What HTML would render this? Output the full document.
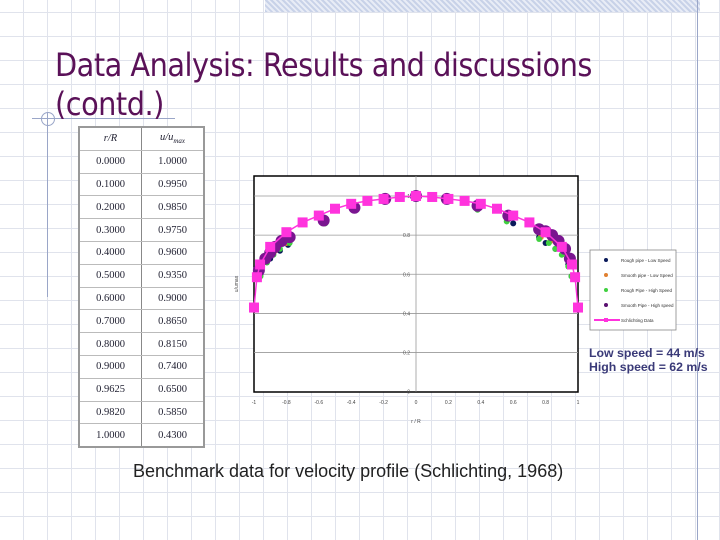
<!DOCTYPE html>
<html><head><meta charset="utf-8">
<style>
body{margin:0;}
#slide{position:relative;width:720px;height:540px;overflow:hidden;background:#fff;font-family:"Liberation Sans",sans-serif;
background-image:repeating-linear-gradient(90deg,transparent 0 23px,#e0e3ec 23px 24px),repeating-linear-gradient(0deg,transparent 0 23px,#e0e3ec 23px 24px);}
#band{position:absolute;left:265px;top:0;width:435px;height:12px;background:repeating-linear-gradient(45deg,#c8d2e8 0 2px,#e8ecf6 2px 4px);}
.title{position:absolute;left:55px;color:#5a1158;font-size:32px;font-family:"DejaVu Sans Condensed","DejaVu Sans",sans-serif;letter-spacing:-0.5px;}
table{position:absolute;left:78px;top:126px;width:127px;border-collapse:collapse;background:#fff;border:2px solid #999;font-family:"Liberation Serif",serif;font-size:10.5px;color:#223;}
td{border:1px solid #bbb;height:21.8px;padding:0;text-align:center;}
td:first-child{border-right:1px solid #888;}
.speed{position:absolute;left:589px;font-size:12.3px;font-weight:bold;color:#3a3a78;}
</style></head><body>
<div id="slide">
<div id="band"></div>
<div style="position:absolute;left:697px;top:0;width:1px;height:540px;background:#9aa6c8"></div>
<div style="position:absolute;left:47px;top:112px;width:1px;height:185px;background:#9aa6c8"></div>
<div style="position:absolute;left:32px;top:118px;width:143px;height:1px;background:#9aa6c8"></div>
<div style="position:absolute;left:41px;top:112px;width:12px;height:12px;border:1px solid #9aa6c8;border-radius:50%"></div>
<div class="title" style="top:46px">Data Analysis: Results and discussions</div>
<div class="title" style="top:85px">(contd.)</div>
<table>
<tr><td style="font-style:italic;height:20px">r/R</td><td style="font-style:italic">u/u<sub style="font-size:7px">max</sub></td></tr>
<tr><td>0.0000</td><td>1.0000</td></tr><tr><td>0.1000</td><td>0.9950</td></tr><tr><td>0.2000</td><td>0.9850</td></tr>
<tr><td>0.3000</td><td>0.9750</td></tr><tr><td>0.4000</td><td>0.9600</td></tr><tr><td>0.5000</td><td>0.9350</td></tr>
<tr><td>0.6000</td><td>0.9000</td></tr><tr><td>0.7000</td><td>0.8650</td></tr><tr><td>0.8000</td><td>0.8150</td></tr>
<tr><td>0.9000</td><td>0.7400</td></tr><tr><td>0.9625</td><td>0.6500</td></tr><tr><td>0.9820</td><td>0.5850</td></tr>
<tr><td>1.0000</td><td>0.4300</td></tr>
</table>
<svg id="chart" style="position:absolute;left:0;top:0" width="720" height="540"></svg>
<div class="speed" style="top:346px">Low speed = 44 m/s</div>
<div class="speed" style="top:360px">High speed = 62 m/s</div>
<div style="position:absolute;left:133px;top:461px;font-size:18px;color:#222">Benchmark data for velocity profile (Schlichting, 1968)</div>
</div>
<script>
const xTicks=[-1,-0.8,-0.6,-0.4,-0.2,0,0.2,0.4,0.6,0.8,1];
const xTickLabels=["-1","-0.8","-0.6","-0.4","-0.2","0","0.2","0.4","0.6","0.8","1"];
const yTicks=[0,0.2,0.4,0.6,0.8,1];
const yTickLabels=["0","0.2","0.4","0.6","0.8","1"];
const schX=[-1,-0.982,-0.9625,-0.9,-0.8,-0.7,-0.6,-0.5,-0.4,-0.3,-0.2,-0.1,0,0.1,0.2,0.3,0.4,0.5,0.6,0.7,0.8,0.9,0.9625,0.982,1];
const schY=[0.43,0.585,0.65,0.74,0.815,0.865,0.9,0.935,0.96,0.975,0.985,0.995,1,0.995,0.985,0.975,0.96,0.935,0.9,0.865,0.815,0.74,0.65,0.585,0.43];
const smoothHighX=[-0.97,-0.93,-0.9,-0.87,-0.83,-0.78,-0.57,-0.38,-0.19,0,0.19,0.38,0.57,0.76,0.8,0.84,0.88,0.92,0.95];
const smoothHighY=[0.62,0.68,0.71,0.74,0.77,0.79,0.875,0.94,0.985,1,0.985,0.95,0.9,0.83,0.82,0.8,0.77,0.73,0.68];
const roughHighX=[-0.96,-0.92,-0.88,-0.84,-0.78,-0.56,-0.38,-0.18,0.18,0.38,0.56,0.76,0.82,0.86,0.9,0.94,0.96];
const roughHighY=[0.59,0.66,0.7,0.73,0.76,0.86,0.93,0.98,0.98,0.93,0.87,0.78,0.76,0.73,0.7,0.64,0.59];
const smoothLowX=[-0.95,-0.91,-0.87,-0.8,-0.57,0.77,0.83,0.88,0.92,0.95];
const smoothLowY=[0.64,0.69,0.72,0.76,0.86,0.79,0.77,0.74,0.71,0.66];
const roughLowX=[-0.96,-0.9,-0.84,-0.79,0.6,0.76,0.8,0.86,0.94,0.96];
const roughLowY=[0.6,0.68,0.72,0.75,0.86,0.79,0.76,0.73,0.65,0.59];
const legendLabels=["Rough pipe - Low Speed","Smooth pipe - Low Speed","Rough Pipe - High Speed","Smooth Pipe - High speed","Schlichting Data"];
const legendColors=["#0a1a5a","#e08030","#40d040","#5a1070","#ff33dd"];

const NS="http://www.w3.org/2000/svg";
const svg=document.getElementById('chart');
const X0=254,X1=578,Y0=391.7,Y1=196;
const sx=v=>X0+(v+1)/2*(X1-X0);
const sy=v=>Y0-v*(Y0-Y1);
function el(t,a,p){const e=document.createElementNS(NS,t);for(const k in a)e.setAttribute(k,a[k]);(p||svg).appendChild(e);return e;}
let r=el('rect',{x:254,y:176,width:324,height:216,fill:'#fff',stroke:'#000','stroke-width':1.5});


yTicks.forEach((t,i)=>{
  if(t>0){const g=el('line',{x1:X0,x2:X1,y1:sy(t),y2:sy(t),stroke:'#999','stroke-width':0.8});
  
  }
  const l=el('text',{x:sx(0)-6,y:sy(t)+2,'font-size':5,fill:'#555','text-anchor':'end'});l.textContent=yTickLabels[i];
  
  
});
let ax=el('line',{x1:sx(0),x2:sx(0),y1:176,y2:Y0,stroke:'#999','stroke-width':0.8});


xTicks.forEach((t,i)=>{
  const l=el('text',{x:sx(t),y:404,'font-size':5,fill:'#444','text-anchor':'middle'});l.textContent=xTickLabels[i];
  
  
});
let xt=el('text',{x:416,y:423,'font-size':5,fill:'#444','text-anchor':'middle'});xt.textContent='r / R';


let yt=el('text',{x:238,y:284,'font-size':5,fill:'#444','text-anchor':'middle',transform:'rotate(-90 238 284)'});yt.textContent='u/umax';


function pts(xs,ys,color,rad,name){xs.forEach((x,i)=>{const c=el('circle',{cx:sx(x),cy:sy(ys[i]),r:rad,fill:color});
  
  });}
pts(roughLowX,roughLowY,legendColors[0],3,'rough-low-point');
pts(smoothLowX,smoothLowY,legendColors[1],3,'smooth-low-point');
pts(roughHighX,roughHighY,legendColors[2],3,'rough-high-point');
pts(smoothHighX,smoothHighY,'#7a1590',6,'smooth-high-point');
let line=el('polyline',{points:schX.map((x,i)=>sx(x)+','+sy(schY[i])).join(' '),fill:'none',stroke:'#ff33dd','stroke-width':1.5});


schX.forEach((x,i)=>{const s=el('rect',{x:sx(x)-5,y:sy(schY[i])-5,width:10,height:10,fill:'#ff33dd'});
  
  });
let lb=el('rect',{x:590,y:250,width:86,height:80,fill:'#fff',stroke:'#888','stroke-width':0.8});


legendLabels.forEach((t,i)=>{
  const y=260+i*15;
  if(i<4){const m=el('circle',{cx:606,cy:y,r:2,fill:legendColors[i]});
    
    }
  else{const m=el('line',{x1:594,x2:620,y1:y,y2:y,stroke:legendColors[i],'stroke-width':2});
    
    
    const q=el('rect',{x:604,y:y-2,width:4,height:4,fill:legendColors[i]});
    
    }
  const l=el('text',{x:621,y:y+2,'font-size':4.5,fill:'#333'});l.textContent=t;
  
  
});
</script>
</body></html>
